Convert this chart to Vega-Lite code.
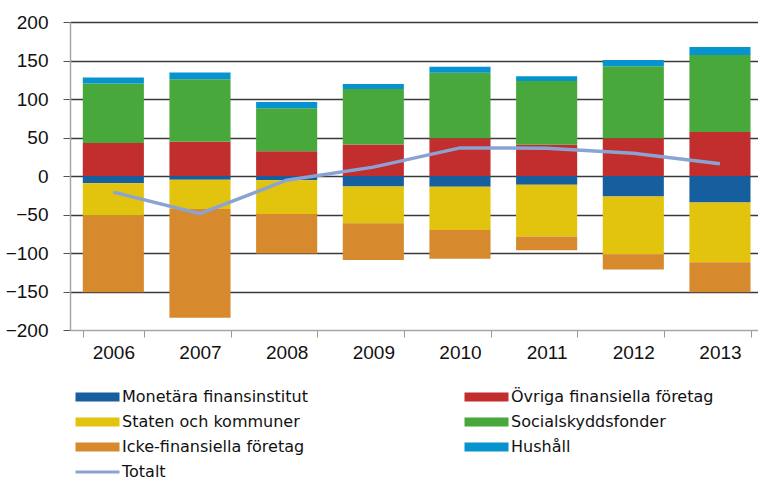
{
  "$schema": "https://vega.github.io/schema/vega-lite/v6.json",
  "autosize": {"type": "none"},
  "padding": {"left": 70, "top": 22, "right": 0, "bottom": 149},
  "width": 688,
  "height": 308,
  "background": "white",
  "config": {
    "view": {"stroke": null},
    "font": "Liberation Sans",
    "axis": {"labelFont": "Liberation Sans", "labelFontSize": 19, "labelColor": "#111", "title": null}
  },
  "datasets": {
    "parts": [
      {"year": "2006", "serie": "Monetära finansinstitut", "k": 0, "value": -9.5},
      {"year": "2006", "serie": "Övriga finansiella företag", "k": 1, "value": 43},
      {"year": "2006", "serie": "Staten och kommuner", "k": 2, "value": -42},
      {"year": "2006", "serie": "Socialskyddsfonder", "k": 3, "value": 77},
      {"year": "2006", "serie": "Icke-finansiella företag", "k": 4, "value": -99.5},
      {"year": "2006", "serie": "Hushåll", "k": 5, "value": 8},
      {"year": "2007", "serie": "Monetära finansinstitut", "k": 0, "value": -5},
      {"year": "2007", "serie": "Övriga finansiella företag", "k": 1, "value": 44.5},
      {"year": "2007", "serie": "Staten och kommuner", "k": 2, "value": -38},
      {"year": "2007", "serie": "Socialskyddsfonder", "k": 3, "value": 81},
      {"year": "2007", "serie": "Icke-finansiella företag", "k": 4, "value": -141},
      {"year": "2007", "serie": "Hushåll", "k": 5, "value": 9},
      {"year": "2008", "serie": "Monetära finansinstitut", "k": 0, "value": -5.5},
      {"year": "2008", "serie": "Övriga finansiella företag", "k": 1, "value": 32},
      {"year": "2008", "serie": "Staten och kommuner", "k": 2, "value": -44},
      {"year": "2008", "serie": "Socialskyddsfonder", "k": 3, "value": 56},
      {"year": "2008", "serie": "Icke-finansiella företag", "k": 4, "value": -51},
      {"year": "2008", "serie": "Hushåll", "k": 5, "value": 8},
      {"year": "2009", "serie": "Monetära finansinstitut", "k": 0, "value": -13.5},
      {"year": "2009", "serie": "Övriga finansiella företag", "k": 1, "value": 41},
      {"year": "2009", "serie": "Staten och kommuner", "k": 2, "value": -48},
      {"year": "2009", "serie": "Socialskyddsfonder", "k": 3, "value": 72},
      {"year": "2009", "serie": "Icke-finansiella företag", "k": 4, "value": -47.5},
      {"year": "2009", "serie": "Hushåll", "k": 5, "value": 6.5},
      {"year": "2010", "serie": "Monetära finansinstitut", "k": 0, "value": -14},
      {"year": "2010", "serie": "Övriga finansiella företag", "k": 1, "value": 49},
      {"year": "2010", "serie": "Staten och kommuner", "k": 2, "value": -56},
      {"year": "2010", "serie": "Socialskyddsfonder", "k": 3, "value": 85},
      {"year": "2010", "serie": "Icke-finansiella företag", "k": 4, "value": -37.5},
      {"year": "2010", "serie": "Hushåll", "k": 5, "value": 8},
      {"year": "2011", "serie": "Monetära finansinstitut", "k": 0, "value": -11.5},
      {"year": "2011", "serie": "Övriga finansiella företag", "k": 1, "value": 40.5},
      {"year": "2011", "serie": "Staten och kommuner", "k": 2, "value": -67},
      {"year": "2011", "serie": "Socialskyddsfonder", "k": 3, "value": 83},
      {"year": "2011", "serie": "Icke-finansiella företag", "k": 4, "value": -18},
      {"year": "2011", "serie": "Hushåll", "k": 5, "value": 6},
      {"year": "2012", "serie": "Monetära finansinstitut", "k": 0, "value": -26.5},
      {"year": "2012", "serie": "Övriga finansiella företag", "k": 1, "value": 49},
      {"year": "2012", "serie": "Staten och kommuner", "k": 2, "value": -75},
      {"year": "2012", "serie": "Socialskyddsfonder", "k": 3, "value": 93.5},
      {"year": "2012", "serie": "Icke-finansiella företag", "k": 4, "value": -20},
      {"year": "2012", "serie": "Hushåll", "k": 5, "value": 8},
      {"year": "2013", "serie": "Monetära finansinstitut", "k": 0, "value": -34.5},
      {"year": "2013", "serie": "Övriga finansiella företag", "k": 1, "value": 57},
      {"year": "2013", "serie": "Staten och kommuner", "k": 2, "value": -77.5},
      {"year": "2013", "serie": "Socialskyddsfonder", "k": 3, "value": 100},
      {"year": "2013", "serie": "Icke-finansiella företag", "k": 4, "value": -39},
      {"year": "2013", "serie": "Hushåll", "k": 5, "value": 10.5}
    ],
    "total": [
      {"year": "2006", "serie": "Totalt", "value": -21},
      {"year": "2007", "serie": "Totalt", "value": -49},
      {"year": "2008", "serie": "Totalt", "value": -5.5},
      {"year": "2009", "serie": "Totalt", "value": 11.5},
      {"year": "2010", "serie": "Totalt", "value": 36.5},
      {"year": "2011", "serie": "Totalt", "value": 36},
      {"year": "2012", "serie": "Totalt", "value": 29.5},
      {"year": "2013", "serie": "Totalt", "value": 16}
    ]
  },
  "encoding": {
    "x": {
      "field": "year",
      "type": "ordinal",
      "scale": {"range": [0, 693.3], "paddingInner": 0.295, "paddingOuter": 0.1475},
      "axis": {
        "labelAngle": 0,
        "tickBand": "extent",
        "tickSize": 7,
        "tickColor": "#999",
        "domainColor": "#a6a6a6",
        "domainWidth": 1.5,
        "labelPadding": 6,
        "grid": false
      }
    },
    "y": {
      "type": "quantitative",
      "scale": {"domain": [-200, 200], "nice": false, "zero": false},
      "axis": {
        "values": [-200, -150, -100, -50, 0, 50, 100, 150, 200],
        "grid": true,
        "gridColor": {"condition": {"test": "datum.value === -200", "value": "transparent"}, "value": "#3a3a3a"},
        "gridWidth": 1.3,
        "tickSize": 7,
        "tickColor": "#555",
        "domainColor": "#a6a6a6",
        "domainWidth": 1.5,
        "labelPadding": 15
      }
    }
  },
  "layer": [
    {
      "data": {"name": "parts"},
      "mark": {"type": "bar"},
      "encoding": {
        "y": {"field": "value", "type": "quantitative", "stack": "zero"},
        "order": {"field": "k", "type": "quantitative"},
        "color": {
          "field": "serie",
          "type": "nominal",
          "scale": {
            "domain": ["Monetära finansinstitut", "Övriga finansiella företag", "Staten och kommuner", "Socialskyddsfonder", "Icke-finansiella företag", "Hushåll", "Totalt"],
            "range": ["#165E9D", "#C22D2E", "#E2C30D", "#49A83B", "#D6892D", "#0693CE", "#8BA3D2"]
          },
          "legend": {
            "orient": "none",
            "direction": "horizontal",
            "legendX": 2,
            "legendY": 367,
            "columns": 2,
            "columnPadding": 153,
            "rowPadding": 9,
            "title": null,
            "labelFont": "DejaVu Sans",
            "labelFontSize": 16,
            "labelColor": "#111",
            "labelOffset": 34,
            "labelLimit": 400,
            "symbolType": "M-1,-1H8.78V1H-1Z",
            "symbolSize": 81,
            "symbolStrokeWidth": 0,
            "encode": {
              "symbols": {
                "update": {
                  "shape": {"signal": "datum.value === 'Totalt' ? 'M-1,-0.35H8.78V0.35H-1Z' : 'M-1,-1H8.78V1H-1Z'"},
                  "fill": {"scale": "color", "field": "value"},
                  "strokeWidth": {"value": 0},
                  "opacity": {"value": 1}
                }
              }
            }
          }
        }
      }
    },
    {
      "data": {"name": "total"},
      "mark": {"type": "line", "strokeWidth": 3.5, "color": "#8BA3D2"},
      "encoding": {
        "y": {"field": "value", "type": "quantitative"},
        "color": {"field": "serie", "type": "nominal"}
      }
    }
  ]
}
